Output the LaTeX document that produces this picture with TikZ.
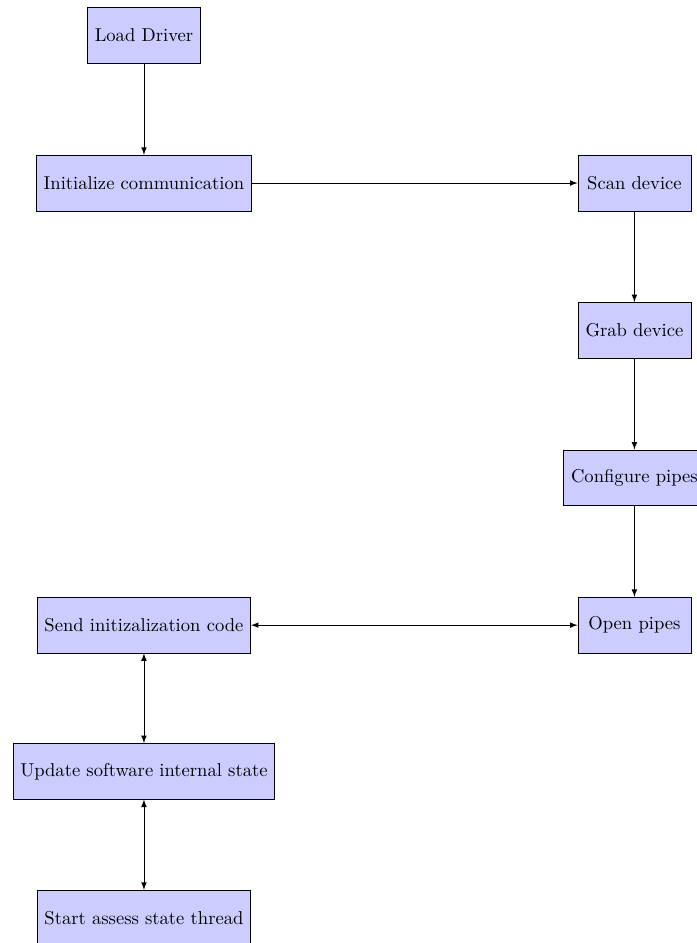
\documentclass[tikz,border=0pt]{standalone}
\usetikzlibrary{arrows}
\begin{document}
\begin{tikzpicture}[x=1pt,y=1pt,
  stepbox/.style={draw=black, fill=blue!20, minimum height=30pt, minimum width=60.8pt, inner xsep=3.9pt, inner ysep=3.33pt},
  flow/.style={-latex, thin},
  both/.style={latex-latex, thin}]
  \useasboundingbox (0,0) rectangle (374.7,-507);
  % main column on the left
  \node[stepbox] (load)   at (77.4,-19.1)  {Load Driver};
  \node[stepbox] (init)   at (77.4,-98.4)  {Initialize communication};
  % device column on the right
  \node[stepbox] (scan)   at (341.1,-98.4) {Scan device};
  \node[stepbox] (grab)   at (341.1,-177.6) {Grab device};
  \node[stepbox] (config) at (341.1,-256.9) {Configure pipes};
  \node[stepbox] (open)   at (341.1,-336.1) {Open pipes};
  % back to the left column
  \node[stepbox] (send)   at (77.4,-336.1) {Send initizalization code};
  \node[stepbox] (update) at (77.4,-414.7) {Update software internal state};
  \node[stepbox] (start)  at (77.4,-493.6) {Start assess state thread};
  % connectors
  \draw[flow] (load) -- (init);
  \draw[flow] (init) -- (scan);
  \draw[flow] (scan) -- (grab);
  \draw[flow] (grab) -- (config);
  \draw[flow] (config) -- (open);
  \draw[both] (send) -- (open);
  \draw[both] (send) -- (update);
  \draw[both] (update) -- (start);
\end{tikzpicture}
\end{document}
